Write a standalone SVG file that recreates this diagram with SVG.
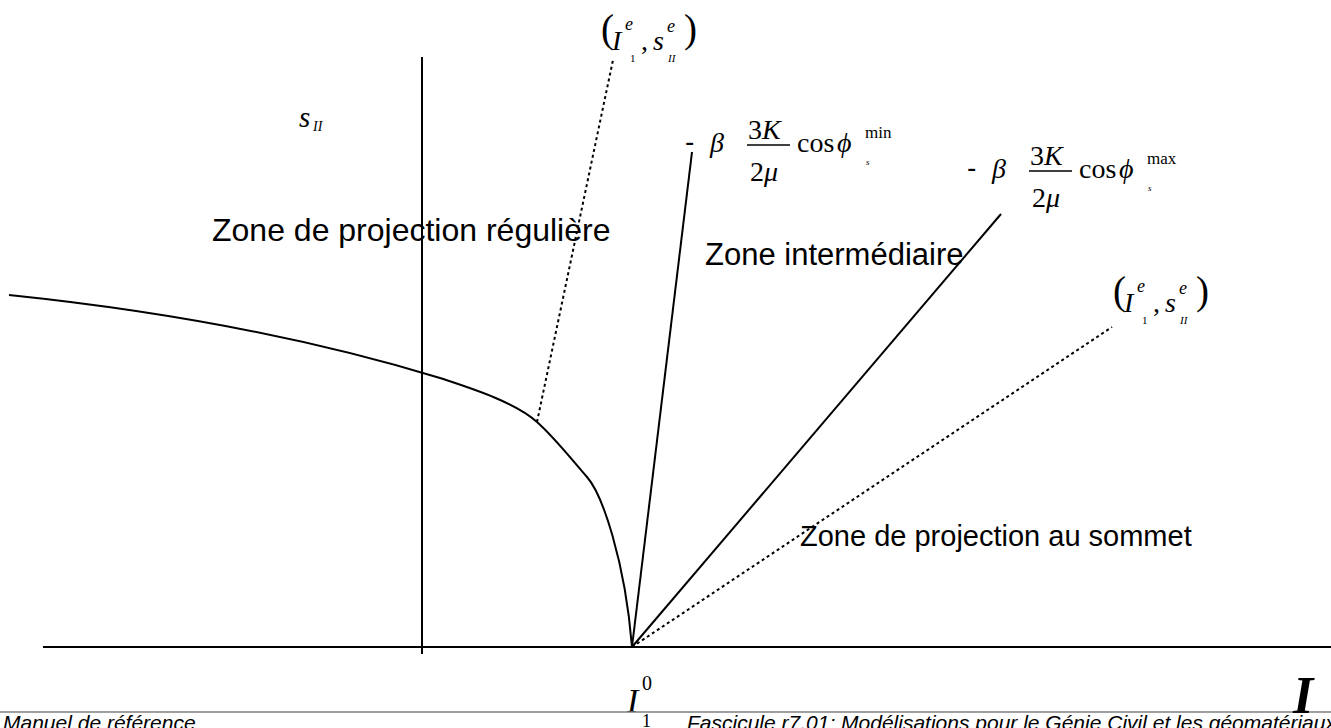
<svg xmlns="http://www.w3.org/2000/svg" width="1331" height="728" viewBox="0 0 1331 728">
<style>
.ax{stroke:#000;stroke-width:2;fill:none}
.sl{stroke:#000;stroke-width:2;fill:none}
.dt{stroke:#000;stroke-width:2;stroke-dasharray:3 3;fill:none}
.zone{font-family:"Liberation Sans",Arial,sans-serif;fill:#000}
.foot{font-family:"Liberation Sans",Arial,sans-serif;font-size:21px;font-style:italic;fill:#000}
.m{font-family:"Liberation Serif","Times New Roman","DejaVu Serif",serif;fill:#000}
.i{font-style:italic}
</style>
<rect width="1331" height="728" fill="#fff"/>
<g id="connectors">
<line class="ax" x1="43" y1="647" x2="1331" y2="647"/>
<line class="ax" x1="422" y1="57" x2="422" y2="654"/>
<path class="sl" d="M9,295 Q250,320 440,378 C470,388 515,402 537,422 C555,438 572,460 587,477 C602,494 625,560 632,647"/>
<line class="sl" x1="632" y1="647" x2="692" y2="152"/>
<line class="sl" x1="632" y1="647" x2="1001" y2="214"/>
<line class="dt" x1="537" y1="422" x2="613" y2="60"/>
<line class="dt" x1="632" y1="647" x2="1112" y2="327"/>
</g>
<g id="label-s">
<text class="m i" x="299" y="127" font-size="29">s</text>
<text class="m i" x="313" y="131" font-size="14">II</text>
</g>
<g id="label-trial-top">
<text class="m" x="601" y="42" font-size="39">(</text>
<text class="m i" x="612" y="50" font-size="28">I</text>
<text class="m i" x="625" y="30" font-size="18">e</text>
<text class="m" x="630" y="62" font-size="11">1</text>
<text class="m" x="641" y="50" font-size="28">,</text>
<text class="m i" x="653" y="50" font-size="28">s</text>
<text class="m i" x="667" y="32" font-size="18">e</text>
<text class="m i" x="668" y="62" font-size="11">II</text>
<text class="m" x="684" y="42" font-size="39">)</text>
</g>
<g id="label-trial-right" transform="translate(512,262)">
<text class="m" x="601" y="42" font-size="39">(</text>
<text class="m i" x="612" y="50" font-size="28">I</text>
<text class="m i" x="625" y="30" font-size="18">e</text>
<text class="m" x="630" y="62" font-size="11">1</text>
<text class="m" x="641" y="50" font-size="28">,</text>
<text class="m i" x="653" y="50" font-size="28">s</text>
<text class="m i" x="667" y="32" font-size="18">e</text>
<text class="m i" x="668" y="62" font-size="11">II</text>
<text class="m" x="684" y="42" font-size="39">)</text>
</g>
<g id="formula-min">
<text class="zone" x="685" y="151" style="font-size:28px">-</text>
<text class="m i" x="710" y="152" font-size="28">β</text>
<text class="m" x="748" y="139" font-size="28">3<tspan class="i">K</tspan></text>
<line x1="747" y1="145" x2="790" y2="145" stroke="#000" stroke-width="1.3"/>
<text class="m" x="750" y="181" font-size="28">2<tspan class="i">μ</tspan></text>
<text class="m" x="797" y="152" font-size="28">cos</text>
<text class="m i" x="837" y="152" font-size="28">ϕ</text>
<text class="m" x="865" y="138" font-size="17">min</text>
<text class="m i" x="866" y="165" font-size="9">s</text>
</g>
<g id="formula-max" transform="translate(282,26)">
<text class="zone" x="685" y="151" style="font-size:28px">-</text>
<text class="m i" x="710" y="152" font-size="28">β</text>
<text class="m" x="748" y="139" font-size="28">3<tspan class="i">K</tspan></text>
<line x1="747" y1="145" x2="790" y2="145" stroke="#000" stroke-width="1.3"/>
<text class="m" x="750" y="181" font-size="28">2<tspan class="i">μ</tspan></text>
<text class="m" x="797" y="152" font-size="28">cos</text>
<text class="m i" x="837" y="152" font-size="28">ϕ</text>
<text class="m" x="865" y="138" font-size="17">max</text>
<text class="m i" x="866" y="165" font-size="9">s</text>
</g>
<g id="zone-reguliere"><text class="zone" x="212" y="241" style="font-size:32px">Zone de projection régulière</text></g>
<g id="zone-intermediaire"><text class="zone" x="705" y="265" style="font-size:31px">Zone intermédiaire</text></g>
<g id="zone-sommet"><text class="zone" x="800" y="546" style="font-size:29px">Zone de projection au sommet</text></g>
<g id="label-I0">
<text class="m i" x="627" y="712" font-size="34">I</text>
<text class="m" x="642" y="690" font-size="20">0</text>
<text class="m" x="642" y="727" font-size="18">1</text>
</g>
<g id="footer">
<line x1="0" y1="712" x2="1331" y2="712" stroke="#808080" stroke-width="1.5"/>
<text class="foot" x="3" y="730">Manuel de référence</text>
<text class="foot" x="687" y="730">Fascicule r7.01: Modélisations pour le Génie Civil et les géomatériaux</text>
<text class="m i" x="1293" y="713" font-size="52" font-weight="bold">I</text>
</g>
</svg>
